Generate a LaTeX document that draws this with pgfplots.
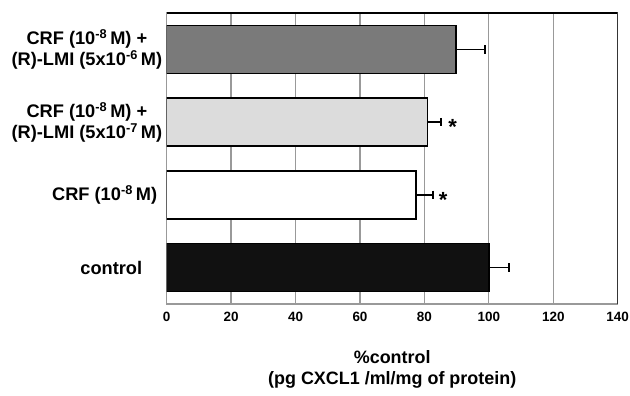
\documentclass[border=0pt]{standalone}
\usepackage{pgfplots}
\pgfplotsset{compat=1.18}
\usepackage{fontspec}
\setmainfont{Liberation Sans}
\definecolor{darkbar}{HTML}{7A7A7A}
\definecolor{lightbar}{HTML}{DCDCDC}
\definecolor{ctrlbar}{HTML}{111111}
\definecolor{gridgray}{HTML}{999999}
\pgfplotsset{
  myerr/.style={error bars/.cd, x dir=plus, x explicit, error mark=|,
    error bar style={black, line width=1.5pt},
    error mark options={black, line width=2pt, mark size=4.2bp}},
}
\begin{document}
\begin{tikzpicture}
\begin{axis}[
  name=ax,
  scale only axis, width=451bp, height=291bp,
  xmin=0, xmax=140, ymin=-0.5, ymax=3.5,
  xtick={0,20,...,140},
  ytick={0,1,2,3},
  yticklabels={{control\rule{20bp}{0pt}}, {CRF (10\textsuperscript{-8}\,M)\rule{5bp}{0pt}}, {CRF (10\textsuperscript{-8}\,M) +\\(R)-LMI (5x10\textsuperscript{-7}\,M)}, {CRF (10\textsuperscript{-8}\,M) +\\(R)-LMI (5x10\textsuperscript{-6}\,M)}},
  yticklabel style={align=center, font=\bfseries\fontsize{18.3}{21}\selectfont, xshift=-1bp},
  xticklabel style={font=\bfseries\fontsize{13.5}{15}\selectfont, yshift=-5bp},
  /pgf/number format/assume math mode=true,
  xmajorgrids, grid style={draw=gridgray, line width=1.3pt},
  major tick length=0pt,
  axis line style={draw=gridgray, line width=1.4pt},
  xlabel={\%control\\(pg CXCL1 /ml/mg of protein)},
  xlabel style={align=center, font=\bfseries\fontsize{18}{20.5}\selectfont, yshift=-22bp},
  xbar, bar width=48bp, bar shift=0pt,
]
\addplot[fill=ctrlbar, draw=black, line width=1.6pt, myerr]
  coordinates {(100,0) +- (6.3,0)};
\addplot[fill=white, draw=black, line width=1.6pt, myerr]
  coordinates {(77.4,1) +- (5.4,0)};
\addplot[fill=lightbar, draw=black, line width=1.6pt, myerr]
  coordinates {(81.0,2) +- (4.1,0)};
\addplot[fill=darkbar, draw=black, line width=1.6pt, myerr]
  coordinates {(89.8,3) +- (9.1,0)};
\node[font=\bfseries\fontsize{22}{22}\selectfont] at (axis cs:88.8,1.93) {*};
\node[font=\bfseries\fontsize{22}{22}\selectfont] at (axis cs:85.8,0.93) {*};
\draw[black, line width=2pt] (rel axis cs:0,1) -- (rel axis cs:1,1) -- (rel axis cs:1,0);
\end{axis}
\pgfresetboundingbox
\path ([xshift=-166.7bp,yshift=-92bp]ax.south west) rectangle ([xshift=12.3bp,yshift=13bp]ax.north east);
\end{tikzpicture}
\end{document}
